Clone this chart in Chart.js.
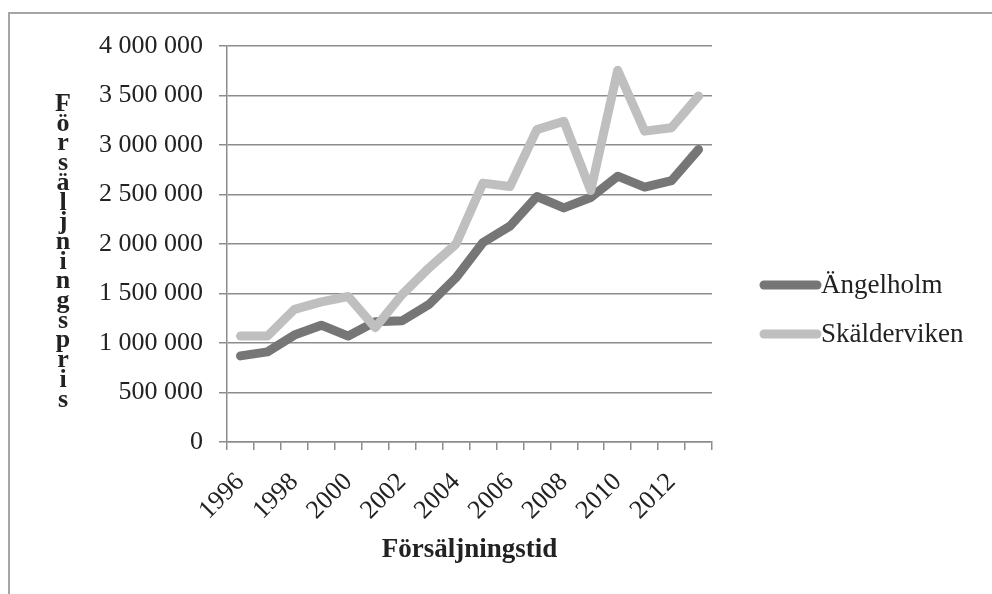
<!DOCTYPE html>
<html>
<head>
<meta charset="utf-8">
<script src="https://cdn.jsdelivr.net/npm/chart.js@4.4.1/dist/chart.umd.min.js"></script>
<style>
  body { margin: 0; background: #fff; }
  #wrap { position: relative; width: 992px; height: 594px; overflow: hidden; }
  #frame { position: absolute; left: 8px; top: 12px; width: 1200px; height: 800px;
           border-top: 2px solid #a6a6a6; border-left: 2px solid #a6a6a6; }
  canvas { position: absolute; left: 0; top: 0; }
</style>
</head>
<body>
<div id="wrap">
  <div id="frame"></div>
  <canvas id="c" width="992" height="594"></canvas>
</div>
<script>
// data
const years = ['1996','1997','1998','1999','2000','2001','2002','2003','2004','2005',
               '2006','2007','2008','2009','2010','2011','2012','2013'];
const angelholm = [870000, 910000, 1080000, 1180000, 1070000, 1215000, 1225000, 1390000, 1660000,
                   2015000, 2180000, 2480000, 2365000, 2470000, 2685000, 2575000, 2640000, 2955000];
const skalderviken = [1070000, 1070000, 1340000, 1415000, 1470000, 1155000, 1490000, 1760000, 2000000,
                      2615000, 2580000, 3155000, 3240000, 2540000, 3755000, 3140000, 3175000, 3495000];
const seriesNames = ['Ängelholm', 'Skälderviken'];
const seriesColors = ['#767676', '#bfbfbf'];
const yTitle = 'Försäljningspris';
const xTitle = 'Försäljningstid';

const serif = '"Liberation Serif", "DejaVu Serif", serif';

// y title is drawn as stacked letters
const stackedTitle = {
  id: 'stackedTitle',
  afterDraw(chart) {
    const ctx = chart.ctx;
    ctx.save();
    ctx.font = 'bold 26px ' + serif;
    ctx.fillStyle = '#222';
    ctx.textAlign = 'center';
    ctx.textBaseline = 'alphabetic';
    for (let i = 0; i < yTitle.length; i++) {
      ctx.fillText(yTitle[i], 63, 111 + i * 19.7);
    }
    ctx.restore();
  }
};

// legend with line samples to the right of the plot
const sideLegend = {
  id: 'sideLegend',
  afterDraw(chart) {
    const ctx = chart.ctx;
    ctx.save();
    seriesNames.forEach((name, i) => {
      const y = 285 + i * 49;
      ctx.strokeStyle = seriesColors[i];
      ctx.lineWidth = 9;
      ctx.lineCap = 'round';
      ctx.beginPath();
      ctx.moveTo(764, y);
      ctx.lineTo(817, y);
      ctx.stroke();
      ctx.fillStyle = '#222';
      ctx.font = '27px ' + serif;
      ctx.textBaseline = 'middle';
      ctx.textAlign = 'left';
      ctx.fillText(name, 821, y + 1);
    });
    ctx.restore();
  }
};

const fmt = v => String(v).replace(/\B(?=(\d{3})+(?!\d))/g, ' ');

new Chart(document.getElementById('c'), {
  type: 'line',
  data: {
    labels: years,
    // Skälderviken first so it is drawn on top
    datasets: [
      { label: seriesNames[1], data: skalderviken, borderColor: seriesColors[1] },
      { label: seriesNames[0], data: angelholm, borderColor: seriesColors[0] }
    ].map(d => Object.assign(d, {
      borderWidth: 9, pointRadius: 0, tension: 0, fill: false,
      borderCapStyle: 'round', borderJoinStyle: 'round'
    }))
  },
  options: {
    responsive: false,
    animation: false,
    layout: { padding: { left: 10, top: 46, right: 280, bottom: 0 } },
    plugins: { legend: { display: false }, tooltip: { enabled: false } },
    scales: {
      x: {
        offset: true,
        grid: { offset: true, drawOnChartArea: false, drawTicks: true, tickLength: 8, color: '#8c8c8c', lineWidth: 1.5 },
        border: { color: '#8c8c8c', width: 1.5 },
        ticks: {
          autoSkip: false, maxRotation: 45, minRotation: 45, padding: 17,
          color: '#222', font: { family: serif, size: 26 },
          callback: function (v, i) { return i % 2 === 0 ? this.getLabelForValue(v) : ''; }
        },
        title: {
          display: true, text: xTitle, color: '#222',
          font: { family: serif, size: 27, weight: 'bold' },
          padding: { top: 0, bottom: 28 }
        },
        afterFit: s => { s.height = 152; }
      },
      y: {
        min: 0, max: 4000000,
        grid: { color: '#8c8c8c', lineWidth: 1.5, tickLength: 8 },
        border: { color: '#8c8c8c', width: 1.5 },
        ticks: {
          stepSize: 500000, padding: 16, color: '#222',
          font: { family: serif, size: 26 },
          callback: v => fmt(v)
        },
        afterFit: s => { s.width = 217; }
      }
    }
  },
  plugins: [stackedTitle, sideLegend]
});
</script>
</body>
</html>
